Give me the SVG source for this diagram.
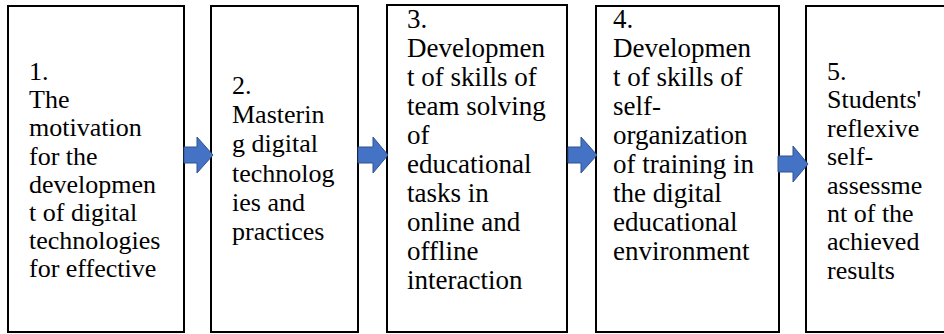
<svg xmlns="http://www.w3.org/2000/svg" width="944" height="334" viewBox="0 0 944 334">
<style>
.box{fill:#fff;stroke:#000;stroke-width:2}
.t{font-family:"Liberation Serif","Times New Roman",serif;font-size:26px;fill:#000}
.t2{font-family:"Liberation Serif","Times New Roman",serif;font-size:27px;fill:#000}
.arr{fill:#4472C4;stroke:#2F528F;stroke-width:1}
</style>
<rect width="944" height="334" fill="#fff"/>
<g id="node1">
<rect class="box" x="8" y="6" width="176" height="326"/>
<text class="t">
<tspan x="29" y="80">1.</tspan>
<tspan x="29" y="108.2">The</tspan>
<tspan x="29" y="136.4">motivation</tspan>
<tspan x="29" y="164.6">for the</tspan>
<tspan x="29" y="192.8">developmen</tspan>
<tspan x="29" y="221">t of digital</tspan>
<tspan x="29" y="249.2">technologies</tspan>
<tspan x="29" y="277.4">for effective</tspan>
</text>
</g>
<g id="node2">
<rect class="box" x="211" y="6" width="147" height="326"/>
<text class="t">
<tspan x="232" y="94">2.</tspan>
<tspan x="232" y="123.2">Masterin</tspan>
<tspan x="232" y="152.4">g digital</tspan>
<tspan x="232" y="181.6">technolog</tspan>
<tspan x="232" y="210.8">ies and</tspan>
<tspan x="232" y="240">practices</tspan>
</text>
</g>
<g id="node3">
<rect class="box" x="387" y="5" width="180" height="327"/>
<text class="t2">
<tspan x="407" y="28">3.</tspan>
<tspan x="407" y="57">Developmen</tspan>
<tspan x="407" y="86">t of skills of</tspan>
<tspan x="407" y="115">team solving</tspan>
<tspan x="407" y="144">of</tspan>
<tspan x="407" y="173">educational</tspan>
<tspan x="407" y="202">tasks in</tspan>
<tspan x="407" y="231">online and</tspan>
<tspan x="407" y="260">offline</tspan>
<tspan x="407" y="289">interaction</tspan>
</text>
</g>
<g id="node4">
<rect class="box" x="596" y="6" width="183" height="326"/>
<text class="t2">
<tspan x="613" y="28">4.</tspan>
<tspan x="613" y="57">Developmen</tspan>
<tspan x="613" y="86">t of skills of</tspan>
<tspan x="613" y="115">self-</tspan>
<tspan x="613" y="144">organization</tspan>
<tspan x="613" y="173">of training in</tspan>
<tspan x="613" y="202">the digital</tspan>
<tspan x="613" y="231">educational</tspan>
<tspan x="613" y="260">environment</tspan>
</text>
</g>
<g id="node5">
<rect class="box" x="806" y="6" width="160" height="326"/>
<text class="t">
<tspan x="827" y="80">5.</tspan>
<tspan x="827" y="108.4">Students'</tspan>
<tspan x="827" y="136.8">reflexive</tspan>
<tspan x="827" y="165.2">self-</tspan>
<tspan x="827" y="193.6">assessme</tspan>
<tspan x="827" y="222">nt of the</tspan>
<tspan x="827" y="250.4">achieved</tspan>
<tspan x="827" y="278.8">results</tspan>
</text>
</g>
<g id="connectors">
<polygon class="arr" points="184,147 197,147 197,137 213,155 197,173 197,163 184,163"/>
<polygon class="arr" points="358,147 373,147 373,137 388,155 373,173 373,163 358,163"/>
<polygon class="arr" points="568,147 581,147 581,137 597,155 581,173 581,163 568,163"/>
<polygon class="arr" points="778,156 793,156 793,146 808,164 793,182 793,172 778,172"/>
</g>
</svg>
